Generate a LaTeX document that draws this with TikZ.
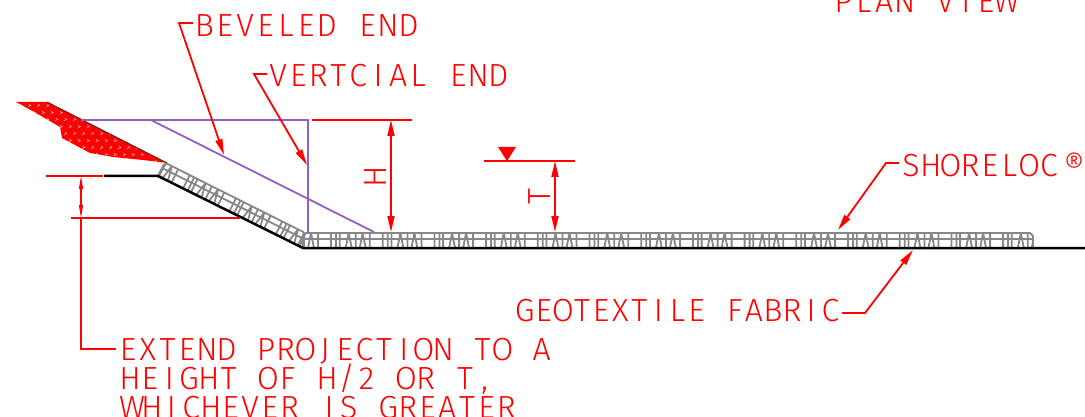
\documentclass[tikz,border=0pt]{standalone}
\usepackage{fontspec}
\newfontfamily\cadfont{Fira Sans Light}
\usetikzlibrary{arrows.meta}
\definecolor{cadred}{RGB}{255,0,0}
\definecolor{cadpurple}{RGB}{145,95,190}
\definecolor{cadgray}{RGB}{135,135,135}
% set a string with a fixed pitch (#1), as a CAD text style does
\ExplSyntaxOn
\NewDocumentCommand{\pitch}{mm}{
  \str_map_inline:nn {#2} {\makebox[#1][c]{##1}}
}
\ExplSyntaxOff
\tikzset{
  lbl/.style={text=cadred,inner sep=0pt,anchor=base west,font=\fontsize{32}{28.2}\selectfont\cadfont},
  leader/.style={draw=cadred,line width=1.8pt,-{Triangle[length=16pt,width=7pt]}},
  plainred/.style={draw=cadred,line width=1.8pt},
  dimline/.style={draw=cadred,line width=1.8pt,{Triangle[length=16pt,width=7pt]}-{Triangle[length=16pt,width=7pt]}},
  smalldim/.style={draw=cadred,line width=1.1pt,{Triangle[length=13pt,width=4pt]}-{Triangle[length=13pt,width=4pt]}},
  purp/.style={draw=cadpurple,line width=1.8pt},
  ground/.style={draw=black,line width=2.5pt},
  gridline/.style={draw=cadgray,line width=1.8pt}
}
% one geogrid strip, drawn along local x from 0 to #1, base at y=0
\newcommand{\gridstrip}[2]{%
  \draw[gridline,line join=round] (0,0)--(0,-12)--(3,-15)--(#1-3,-15)--(#1,-12)--(#1,0);
  \draw[gridline] (0,-9)--(#1,-9);
  \begin{scope}
    \clip (0,1) rectangle (#1,-15);
    \foreach \k in {0,...,#2}{
      \begin{scope}[shift={(\k*51.7-15,0)}]
        \draw[gridline] (0,0)--(0,-15) (6,0)--(9,-15)--(12,0)
          (16,0)--(16,-15) (20,0)--(23,-15)--(26,0) (30,0)--(30,-15)
          (43,0)--(43,-15) (48,0)--(48,-15);
      \end{scope}
    }
  \end{scope}
}
\begin{document}
\begin{tikzpicture}[x=1pt,y=-1pt]
\useasboundingbox (0,0) rectangle (1085,417);
\clip (0,0) rectangle (1085,417);
% named points
\coordinate (bevA) at (151,120);
\coordinate (bevB) at (374,232);
\coordinate (topL) at (81,120);
\coordinate (topR) at (308,120);
\coordinate (vertB) at (308,233);
\coordinate (g0) at (104,176);
\coordinate (g1) at (158,176);
\coordinate (g2) at (303,248);
\coordinate (g3) at (1085,248);
% red fill of the bank
\begin{scope}
  \clip (16,102)--(47,102)--(167,163)--(143,160)--(113,157)--(90,153)--(62,138)--(60,127)--(43,117)--(27,108)--cycle;
  \fill[cadred] (0,90) rectangle (180,170);
  \foreach \i in {0,...,17}{\foreach \j in {0,...,9}{
    \pgfmathsetmacro{\px}{15+\i*9+mod(\j,2)*4}
    \pgfmathsetmacro{\py}{100+\j*7}
    \draw[white,line width=.5pt,opacity=.7] (\px,\py)--++(3,-2);
    \draw[white,line width=.5pt,opacity=.7] (\px+5,\py+4)--++(2,2);
  }}
\end{scope}
\draw[draw={rgb,255:red,120;green,20;blue,20},line width=1pt] (47,102)--(167,163);
% geogrid
\begin{scope}[shift={(303,248)}]
  \gridstrip{730}{15}
\end{scope}
\begin{scope}[shift={(158,176)},rotate=-26.6]
  \gridstrip{158}{4}
\end{scope}
% ground
\draw[ground,line join=round] (g0)--(g1)--(g2)--(g3);
% purple projections
\draw[purp] (topL)--(topR)--(vertB);
\draw[purp] (bevA)--(bevB);
% labels
\node[lbl] (bev) at (194,37) {\pitch{20.4pt}{BEVELED END}};
\node[lbl] (ver) at (268,87) {\pitch{20pt}{VERTCIAL END}};
\node[lbl] (plan) at (833,13) {\pitch{20.4pt}{PLAN VIEW}};
\node[lbl] (shore) at (901,177) {\pitch{19.7pt}{SHORELOC}\hspace{5pt}{\fontsize{32}{32}\selectfont\raisebox{0.5pt}{®}}};
\node[lbl] (geo) at (515,321) {\pitch{19.1pt}{GEOTEXTILE FABRIC}};
\node[lbl,anchor=north west,align=left] (ext) at (118,338) {\pitch{19.7pt}{EXTEND PROJECTION TO A}\\[-1.8pt]\hspace{2pt}\pitch{19.7pt}{HEIGHT OF H/2 OR T,}\\[1pt]\hspace{4pt}\pitch{19.7pt}{WHICHEVER IS GREATER}};
% leaders
\coordinate (bevK) at (193,23);
\coordinate (bevE) at (179,23);
\coordinate (bevT) at (224,155);
\draw[leader,line join=miter] (bevK)--(bevE)--(bevT);
\coordinate (verK) at (267,74);
\coordinate (verE) at (254,74);
\coordinate (verT) at (307,165);
\draw[leader] (verK)--(verE)--(verT);
\coordinate (shK) at (899,163);
\coordinate (shE) at (886,163);
\coordinate (shT) at (838,230);
\draw[leader] (shK)--(shE)--(shT);
\coordinate (geK) at (842,313);
\coordinate (geE) at (865,313);
\coordinate (geT) at (913,250);
\draw[leader] (geK)--(geE)--(geT);
% H dimension
\coordinate (hL) at (312,120);
\coordinate (hR) at (412,120);
\coordinate (hT) at (391,120);
\coordinate (hB) at (391,232);
\draw[plainred] (hL)--(hR);
\draw[dimline] (hT)--(hB);
\node[lbl,anchor=center,rotate=90] (hl) at (376,176.5) {H};
% T dimension
\coordinate (wL) at (484,161);
\coordinate (wR) at (575,161);
\coordinate (tT) at (555,161);
\coordinate (tB) at (555,232);
\draw[plainred] (wL)--(wR);
\draw[dimline] (tT)--(tB);
\fill[cadred] (498,147)--(516,147)--(507,161)--cycle;
\node[lbl,anchor=center,rotate=90] (tl) at (540,196.5) {T};
% projection dimension
\coordinate (pA) at (46,176);
\coordinate (pB) at (103,176);
\coordinate (qA) at (71,218);
\coordinate (qB) at (240,218);
\coordinate (vT) at (81,176);
\coordinate (vM) at (81,218);
\coordinate (vB) at (81,349);
\coordinate (vE) at (116,349);
\draw[plainred] (pA)--(pB);
\draw[plainred] (qA)--(qB);
\draw[smalldim] (vT)--(vM);
\draw[plainred,line join=miter] (vM)--(vB)--(vE);
\end{tikzpicture}
\end{document}
